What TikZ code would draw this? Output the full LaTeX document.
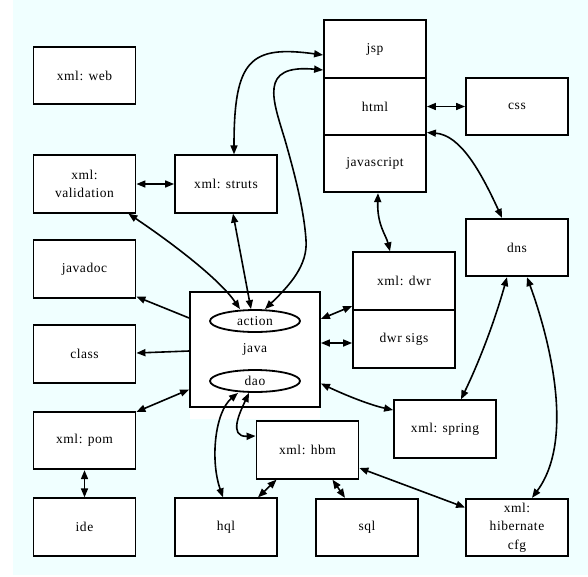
\documentclass[tikz,border=0pt]{standalone}
\usepackage{fontspec}
\setmainfont{Liberation Serif}[LetterSpace=4]
\usetikzlibrary{arrows.meta,shapes.geometric}
\definecolor{bgcyan}{HTML}{F0FFFF}
\tikzset{
  box/.style={draw, line width=1.8pt, fill=white, minimum width=102pt, minimum height=57.5pt, inner sep=0pt, align=center, font=\fontsize{13.5}{18.5}\selectfont},
  oval/.style={draw, ellipse, line width=1.8pt, fill=white, minimum width=90pt, minimum height=22pt, inner sep=0pt, font=\fontsize{13.5}{15}\selectfont},
  conn/.style={line width=1.6pt, -{Triangle[length=9pt,width=7pt]}},
  dbl/.style={line width=1.6pt, {Triangle[length=9pt,width=7pt]}-{Triangle[length=9pt,width=7pt]}},
}
\begin{document}
\begin{tikzpicture}[x=1pt,y=-1pt]
\useasboundingbox (0,0) rectangle (588,576);
\fill[bgcyan] (13,0) rectangle (588,575);
\fill[white] (190,292) rectangle (320,419);
% java cluster
\node[draw, line width=1.8pt, fill=white, minimum width=130pt, minimum height=115pt, inner sep=0pt, font=\fontsize{13.5}{15}\selectfont] (java) at (255,349.5) {java};
\node[oval] (action) at (255,321) {action};
\node[oval] (dao) at (255,381) {dao};
% left column
\node[box] (web) at (84.5,75.5) {xml: web};
\node[box] (validation) at (84.5,184) {xml:\\validation};
\node[box] (struts) at (226,184) {xml: struts};
\node[box] (javadoc) at (84.5,269) {javadoc};
\node[box] (class) at (84.5,354) {class};
\node[box] (pom) at (84.5,440.5) {xml: pom};
\node[box] (ide) at (84.5,527) {ide};
\node[box] (hql) at (226,527) {hql};
\node[box] (hbm) at (307.5,450) {xml: hbm};
\node[box] (sql) at (367,527.5) {sql};
\node[box] (cfg) at (517,527.5) {xml:\\hibernate\\cfg};
\node[box] (spring) at (445,429) {xml: spring};
\node[box] (dwr) at (404,281) {xml: dwr};
\node[box] (dwrsigs) at (404,339) {dwr sigs};
\node[box] (jsp) at (375,49) {jsp};
\node[box] (html) at (375,106.5) {html};
\node[box] (javascript) at (375,163.5) {javascript};
\node[box] (css) at (517,106.5) {css};
\node[box] (dns) at (517,247.5) {dns};
% connectors
\draw[dbl] (validation.east) -- (struts.west);
\draw[dbl] ([xshift=-8pt]validation.south east) .. controls (175,245) and (220,280) .. ([xshift=-15pt]action.north);
\draw[dbl] ([xshift=7pt]struts.south) -- ([xshift=-4pt]action.north);
\draw[dbl] ([xshift=8pt]struts.north) .. controls (234,60) and (250,45) .. ([yshift=-6pt]jsp.west);
\draw[dbl] ([xshift=10pt]action.north) .. controls (290,285) and (308,265) .. (306,240)
   .. controls (304,210) and (295,175) .. (285,140)
   .. controls (273,100) and (258,64) .. ([yshift=-21pt]jsp.west);
\draw[conn] ([yshift=31.5pt]java.west) -- ([yshift=2pt]javadoc.south east);
\draw[conn] ([yshift=-1.5pt]java.west) -- ([yshift=1pt]class.east);
\draw[dbl] ([yshift=-40pt]java.west) -- ([yshift=-1pt]pom.north east);
\draw[dbl] (pom.south) -- (ide.north);
\draw[dbl] ([xshift=-17pt]dao.south) .. controls (215,412) and (210,460) .. ([xshift=-3pt]hql.north);
\draw[dbl] ([xshift=-6pt]dao.south) .. controls (240,412) and (228,437) .. ([yshift=14pt]hbm.west);
\draw[dbl] ([xshift=32pt]hql.north) -- ([xshift=-31pt]hbm.south);
\draw[dbl] ([xshift=25pt]hbm.south) -- ([xshift=-22pt]sql.north);
\draw[dbl] ([yshift=-18pt]hbm.east) -- ([yshift=20pt]cfg.west);
\draw[dbl] ([yshift=-34pt]java.east) .. controls (345,395) and (370,405) .. ([yshift=19pt]spring.west);
\draw[dbl] ([yshift=30.5pt]java.east) -- ([yshift=-25pt]dwr.west);
\draw[dbl] ([yshift=6.5pt]java.east) -- ([yshift=-4pt]dwrsigs.west);
\draw[dbl] ([xshift=3pt]javascript.south) .. controls (377,225) and (386,235) .. ([xshift=-14pt]dwr.north);
\draw[dbl] (html.east) -- (css.west);
\draw[dbl] ([yshift=-26pt]html.east) .. controls (460,135) and (480,170) .. ([xshift=-15pt]dns.north);
\draw[dbl] ([xshift=-10pt]dns.south) .. controls (495,320) and (480,360) .. ([xshift=16pt]spring.north);
\draw[dbl] ([xshift=10pt]dns.south) .. controls (550,340) and (575,440) .. ([xshift=15pt]cfg.north);
\end{tikzpicture}
\end{document}
